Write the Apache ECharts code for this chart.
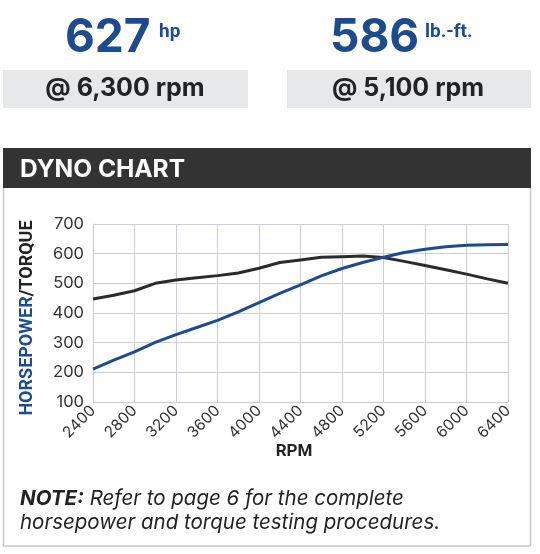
<!DOCTYPE html>
<html>
<head>
<meta charset="utf-8">
<script src="https://cdn.jsdelivr.net/npm/echarts@6.0.0/dist/echarts.min.js"></script>
<style>
  html, body { margin: 0; padding: 0; background: #ffffff; }
  #chart { width: 540px; height: 554px; }
</style>
</head>
<body>
<div id="chart"></div>
<script>
const rpm = [2400, 2600, 2800, 3000, 3200, 3400, 3600, 3800, 4000, 4200, 4400, 4600, 4800, 5000, 5200, 5400, 5600, 5800, 6000, 6200, 6400];
const torque = [447, 460, 475, 500, 511, 519, 526, 535, 551, 570, 579, 588, 590, 592, 587, 574, 560, 546, 531, 515, 500];
const horsepower = [211, 241, 269, 301, 327, 351, 375, 404, 435, 466, 495, 525, 550, 570, 588, 604, 615, 623, 628, 630, 631];

const peakHp = '627';
const peakHpRpm = '@ 6,300 rpm';
const peakTq = '586';
const peakTqRpm = '@ 5,100 rpm';

const FONT = 'Inter';
const COND = 'Roboto';
const BLUE = '#1e4b8e';
const DARK = '#232323';

const chart = echarts.init(document.getElementById('chart'), null, { renderer: 'canvas' });

function pairs(ys) { return rpm.map((x, i) => [x, ys[i]]); }

chart.setOption({
  backgroundColor: '#ffffff',
  animation: false,
  grid: { left: 93, right: 32, top: 224, bottom: 152, containLabel: false },
  xAxis: {
    type: 'value', min: 2400, max: 6400, interval: 400,
    axisLine: { show: true, lineStyle: { color: '#c9ced6', width: 1 } },
    axisTick: { show: false },
    splitLine: { show: true, lineStyle: { color: '#c9ced6', width: 1 } },
    axisLabel: { rotate: 45, color: '#333333', fontFamily: FONT, fontSize: 15.5, margin: 6,
      formatter: v => String(v) }
  },
  yAxis: {
    type: 'value', min: 100, max: 700, interval: 100,
    axisLine: { show: true, lineStyle: { color: '#c9ced6', width: 1 } },
    axisTick: { show: false },
    splitLine: { show: true, lineStyle: { color: '#c9ced6', width: 1 } },
    axisLabel: { color: '#333333', fontFamily: FONT, fontSize: 16.5, margin: 9, formatter: v => String(v) }
  },
  series: [
    { name: 'Torque', type: 'line', data: pairs(torque), symbol: 'none', smooth: false,
      lineStyle: { color: '#2b2b2b', width: 3 }, z: 2 },
    { name: 'Horsepower', type: 'line', data: pairs(horsepower), symbol: 'none', smooth: false,
      lineStyle: { color: BLUE, width: 3 }, z: 3 }
  ],
  graphic: [
    { type: 'rect', shape: { x: 3, y: 70, width: 245, height: 38 }, style: { fill: '#e7e8ea' }, z: 0 },
    { type: 'rect', shape: { x: 287, y: 70, width: 244, height: 38 }, style: { fill: '#e7e8ea' }, z: 0 },
    { type: 'text', x: 65, y: 38, style: { text: peakHp, fill: BLUE, font: 'bold 46px ' + FONT, textAlign: 'left', textVerticalAlign: 'middle' } },
    { type: 'text', x: 159, y: 32, style: { text: 'hp', fill: BLUE, font: 'bold 19px ' + COND, textAlign: 'left', textVerticalAlign: 'middle' } },
    { type: 'text', x: 330, y: 38, style: { text: peakTq, fill: BLUE, font: 'bold 46px ' + FONT, textAlign: 'left', textVerticalAlign: 'middle' } },
    { type: 'text', x: 425, y: 32, style: { text: 'lb.-ft.', fill: BLUE, font: 'bold 19px ' + COND, textAlign: 'left', textVerticalAlign: 'middle' } },
    { type: 'text', x: 125, y: 88, style: { text: peakHpRpm, fill: DARK, font: 'bold 25px ' + FONT, textAlign: 'center', textVerticalAlign: 'middle' } },
    { type: 'text', x: 408, y: 88, style: { text: peakTqRpm, fill: DARK, font: 'bold 25px ' + FONT, textAlign: 'center', textVerticalAlign: 'middle' } },
    { type: 'rect', shape: { x: 3.5, y: 187, width: 527, height: 359 }, style: { fill: 'none', stroke: '#c8c8c8', lineWidth: 1.5 }, z: 0 },
    { type: 'rect', shape: { x: 3, y: 148, width: 528, height: 40 }, style: { fill: '#333333' }, z: 1 },
    { type: 'text', x: 20, y: 170, style: { text: 'DYNO CHART', fill: '#ffffff', font: 'bold 24.5px ' + FONT, textAlign: 'left', textVerticalAlign: 'middle' }, z: 2 },
    { type: 'text', x: 27, y: 318, rotation: Math.PI / 2,
      style: { text: '{a|HORSEPOWER}{b|/TORQUE}', textAlign: 'center', textVerticalAlign: 'middle',
        rich: { a: { fill: BLUE, font: 'bold 18px ' + COND }, b: { fill: DARK, font: 'bold 18px ' + COND } } } },
    { type: 'text', x: 294, y: 452, style: { text: 'RPM', fill: DARK, font: 'bold 17px ' + COND, textAlign: 'center', textVerticalAlign: 'middle' } },
    { type: 'text', x: 20, y: 499,
      style: { text: '{b|NOTE:}{i| Refer to page 6 for the complete}', textAlign: 'left', textVerticalAlign: 'middle',
        rich: { b: { fill: DARK, font: 'italic bold 20.5px ' + FONT }, i: { fill: DARK, font: 'italic 20.5px ' + FONT } } } },
    { type: 'text', x: 20, y: 523,
      style: { text: 'horsepower and torque testing procedures.', fill: DARK, font: 'italic 20.5px ' + FONT, textAlign: 'left', textVerticalAlign: 'middle' } }
  ]
});
</script>
</body>
</html>
